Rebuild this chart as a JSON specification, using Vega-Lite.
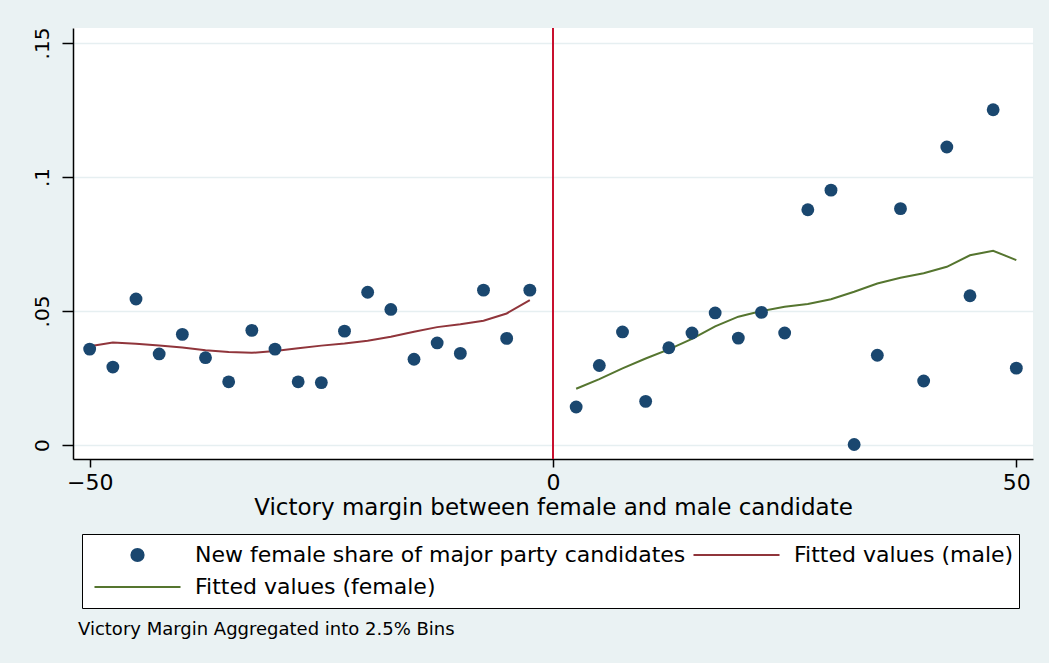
{
  "$schema": "https://vega.github.io/schema/vega-lite/v6.json",
  "width": 960,
  "height": 431,
  "autosize": {"type": "none"},
  "padding": {"left": 73, "top": 28, "right": 16, "bottom": 204},
  "background": "#eaf2f3",
  "view": {"fill": "white", "stroke": null},
  "config": {"font": "DejaVu Sans"},
  "title": {
    "text": "Victory Margin Aggregated into 2.5% Bins",
    "orient": "bottom",
    "anchor": "start",
    "frame": "group",
    "fontSize": 18,
    "fontWeight": "normal",
    "font": "DejaVu Sans",
    "color": "black",
    "offset": 12,
    "dx": 5
  },
  "datasets": {
    "cutoff": [{"x": 0}],
    "bins": [
      {"x": -50, "y": 0.0358, "series": "New female share of major party candidates"},
      {"x": -47.5, "y": 0.0291, "series": "New female share of major party candidates"},
      {"x": -45, "y": 0.0545, "series": "New female share of major party candidates"},
      {"x": -42.5, "y": 0.034, "series": "New female share of major party candidates"},
      {"x": -40, "y": 0.0413, "series": "New female share of major party candidates"},
      {"x": -37.5, "y": 0.0326, "series": "New female share of major party candidates"},
      {"x": -35, "y": 0.0236, "series": "New female share of major party candidates"},
      {"x": -32.5, "y": 0.0428, "series": "New female share of major party candidates"},
      {"x": -30, "y": 0.0358, "series": "New female share of major party candidates"},
      {"x": -27.5, "y": 0.0236, "series": "New female share of major party candidates"},
      {"x": -25, "y": 0.0233, "series": "New female share of major party candidates"},
      {"x": -22.5, "y": 0.0425, "series": "New female share of major party candidates"},
      {"x": -20, "y": 0.057, "series": "New female share of major party candidates"},
      {"x": -17.5, "y": 0.0506, "series": "New female share of major party candidates"},
      {"x": -15, "y": 0.032, "series": "New female share of major party candidates"},
      {"x": -12.5, "y": 0.0381, "series": "New female share of major party candidates"},
      {"x": -10, "y": 0.0342, "series": "New female share of major party candidates"},
      {"x": -7.5, "y": 0.0578, "series": "New female share of major party candidates"},
      {"x": -5, "y": 0.0398, "series": "New female share of major party candidates"},
      {"x": -2.5, "y": 0.0578, "series": "New female share of major party candidates"},
      {"x": 2.5, "y": 0.0142, "series": "New female share of major party candidates"},
      {"x": 5, "y": 0.0297, "series": "New female share of major party candidates"},
      {"x": 7.5, "y": 0.0422, "series": "New female share of major party candidates"},
      {"x": 10, "y": 0.0163, "series": "New female share of major party candidates"},
      {"x": 12.5, "y": 0.0363, "series": "New female share of major party candidates"},
      {"x": 15, "y": 0.0418, "series": "New female share of major party candidates"},
      {"x": 17.5, "y": 0.0493, "series": "New female share of major party candidates"},
      {"x": 20, "y": 0.0399, "series": "New female share of major party candidates"},
      {"x": 22.5, "y": 0.0495, "series": "New female share of major party candidates"},
      {"x": 25, "y": 0.0418, "series": "New female share of major party candidates"},
      {"x": 27.5, "y": 0.0878, "series": "New female share of major party candidates"},
      {"x": 30, "y": 0.0951, "series": "New female share of major party candidates"},
      {"x": 32.5, "y": 0.0002, "series": "New female share of major party candidates"},
      {"x": 35, "y": 0.0335, "series": "New female share of major party candidates"},
      {"x": 37.5, "y": 0.0882, "series": "New female share of major party candidates"},
      {"x": 40, "y": 0.0239, "series": "New female share of major party candidates"},
      {"x": 42.5, "y": 0.1112, "series": "New female share of major party candidates"},
      {"x": 45, "y": 0.0557, "series": "New female share of major party candidates"},
      {"x": 47.5, "y": 0.1251, "series": "New female share of major party candidates"},
      {"x": 50, "y": 0.0287, "series": "New female share of major party candidates"}
    ],
    "fits": [
      {"x": -50, "y": 0.0369, "series": "Fitted values (male)"},
      {"x": -47.5, "y": 0.0383, "series": "Fitted values (male)"},
      {"x": -45, "y": 0.0378, "series": "Fitted values (male)"},
      {"x": -42.5, "y": 0.0371, "series": "Fitted values (male)"},
      {"x": -40, "y": 0.0364, "series": "Fitted values (male)"},
      {"x": -37.5, "y": 0.0354, "series": "Fitted values (male)"},
      {"x": -35, "y": 0.0347, "series": "Fitted values (male)"},
      {"x": -32.5, "y": 0.0344, "series": "Fitted values (male)"},
      {"x": -30, "y": 0.0351, "series": "Fitted values (male)"},
      {"x": -27.5, "y": 0.0361, "series": "Fitted values (male)"},
      {"x": -25, "y": 0.0371, "series": "Fitted values (male)"},
      {"x": -22.5, "y": 0.0379, "series": "Fitted values (male)"},
      {"x": -20, "y": 0.0389, "series": "Fitted values (male)"},
      {"x": -17.5, "y": 0.0404, "series": "Fitted values (male)"},
      {"x": -15, "y": 0.0423, "series": "Fitted values (male)"},
      {"x": -12.5, "y": 0.044, "series": "Fitted values (male)"},
      {"x": -10, "y": 0.0451, "series": "Fitted values (male)"},
      {"x": -7.5, "y": 0.0464, "series": "Fitted values (male)"},
      {"x": -5, "y": 0.0491, "series": "Fitted values (male)"},
      {"x": -2.5, "y": 0.0541, "series": "Fitted values (male)"},
      {"x": 2.5, "y": 0.021, "series": "Fitted values (female)"},
      {"x": 5, "y": 0.0246, "series": "Fitted values (female)"},
      {"x": 7.5, "y": 0.0286, "series": "Fitted values (female)"},
      {"x": 10, "y": 0.0323, "series": "Fitted values (female)"},
      {"x": 12.5, "y": 0.0357, "series": "Fitted values (female)"},
      {"x": 15, "y": 0.0396, "series": "Fitted values (female)"},
      {"x": 17.5, "y": 0.0443, "series": "Fitted values (female)"},
      {"x": 20, "y": 0.0479, "series": "Fitted values (female)"},
      {"x": 22.5, "y": 0.05, "series": "Fitted values (female)"},
      {"x": 25, "y": 0.0516, "series": "Fitted values (female)"},
      {"x": 27.5, "y": 0.0526, "series": "Fitted values (female)"},
      {"x": 30, "y": 0.0544, "series": "Fitted values (female)"},
      {"x": 32.5, "y": 0.0572, "series": "Fitted values (female)"},
      {"x": 35, "y": 0.0603, "series": "Fitted values (female)"},
      {"x": 37.5, "y": 0.0624, "series": "Fitted values (female)"},
      {"x": 40, "y": 0.0641, "series": "Fitted values (female)"},
      {"x": 42.5, "y": 0.0665, "series": "Fitted values (female)"},
      {"x": 45, "y": 0.0708, "series": "Fitted values (female)"},
      {"x": 47.5, "y": 0.0725, "series": "Fitted values (female)"},
      {"x": 50, "y": 0.069, "series": "Fitted values (female)"}
    ]
  },
  "encoding": {
    "x": {
      "field": "x",
      "type": "quantitative",
      "scale": {"domain": [-51.8, 51.8], "nice": false, "zero": false},
      "axis": {
        "values": [-50, 0, 50],
        "title": "Victory margin between female and male candidate",
        "titleFont": "DejaVu Sans",
        "titleFontSize": 23,
        "titleFontWeight": "normal",
        "titleColor": "black",
        "titlePadding": 3,
        "labelFont": "DejaVu Sans",
        "labelFontSize": 22,
        "labelColor": "black",
        "labelPadding": 5,
        "labelFlush": false,
        "tickSize": 8,
        "tickColor": "black",
        "tickWidth": 1.5,
        "domainColor": "black",
        "domainWidth": 1.5,
        "grid": false
      }
    }
  },
  "layer": [
    {
      "data": {"name": "cutoff"},
      "mark": {"type": "rule", "color": "#c8102e", "strokeWidth": 2}
    },
    {
      "data": {"name": "fits"},
      "mark": {"type": "line", "strokeWidth": 2},
      "encoding": {
        "y": {
          "field": "y",
          "type": "quantitative",
          "scale": {"domain": [-0.0052, 0.1556], "nice": false, "zero": false},
          "axis": {
            "values": [0, 0.05, 0.1, 0.15],
            "labelExpr": "datum.value == 0 ? '0' : replace(format(datum.value, '.2~f'), '0.', '.')",
            "title": null,
            "labelAngle": -90,
            "labelAlign": "center",
            "labelBaseline": "alphabetic",
            "labelFont": "DejaVu Sans",
            "labelFontSize": 20,
            "labelColor": "black",
            "labelPadding": 14,
            "labelFlush": false,
            "tickSize": 11,
            "tickColor": "black",
            "tickWidth": 1.5,
            "domainColor": "black",
            "domainWidth": 1.5,
            "grid": true,
            "gridColor": "#e6eff1",
            "gridWidth": 1.5
          }
        },
        "color": {
          "field": "series",
          "type": "nominal",
          "scale": {
            "domain": ["New female share of major party candidates", "Fitted values (male)", "Fitted values (female)"],
            "range": ["#1a476f", "#90353b", "#55752f"]
          },
          "legend": {
            "orient": "none",
            "legendX": 9,
            "legendY": 506,
            "columns": 2,
            "direction": "horizontal",
            "title": null,
            "labelFont": "DejaVu Sans",
            "labelFontSize": 22,
            "labelColor": "black",
            "labelLimit": 1000,
            "clipHeight": 32,
            "symbolOffset": 6,
            "labelOffset": 13,
            "columnPadding": -32,
            "rowPadding": 0,
            "padding": 5,
            "strokeColor": "black",
            "fillColor": "white",
            "symbolStrokeWidth": 2,
            "encode": {
              "symbols": {
                "update": {
                  "shape": {"signal": "datum.value === 'New female share of major party candidates' ? 'circle' : 'stroke'"},
                  "size": {"signal": "datum.value === 'New female share of major party candidates' ? 150 : 7400"},
                  "fill": {"signal": "datum.value === 'New female share of major party candidates' ? '#1a476f' : 'transparent'"},
                  "stroke": {"signal": "datum.value === 'Fitted values (male)' ? '#90353b' : (datum.value === 'Fitted values (female)' ? '#55752f' : 'transparent')"},
                  "strokeWidth": {"value": 2},
                  "opacity": {"value": 1}
                }
              }
            }
          }
        }
      }
    },
    {
      "data": {"name": "bins"},
      "mark": {"type": "point", "filled": true, "opacity": 1, "size": 165},
      "encoding": {
        "y": {
          "field": "y",
          "type": "quantitative",
          "scale": {"domain": [-0.0052, 0.1556], "nice": false, "zero": false}
        },
        "color": {
          "field": "series",
          "type": "nominal",
          "scale": {
            "domain": ["New female share of major party candidates", "Fitted values (male)", "Fitted values (female)"],
            "range": ["#1a476f", "#90353b", "#55752f"]
          }
        }
      }
    }
  ]
}
